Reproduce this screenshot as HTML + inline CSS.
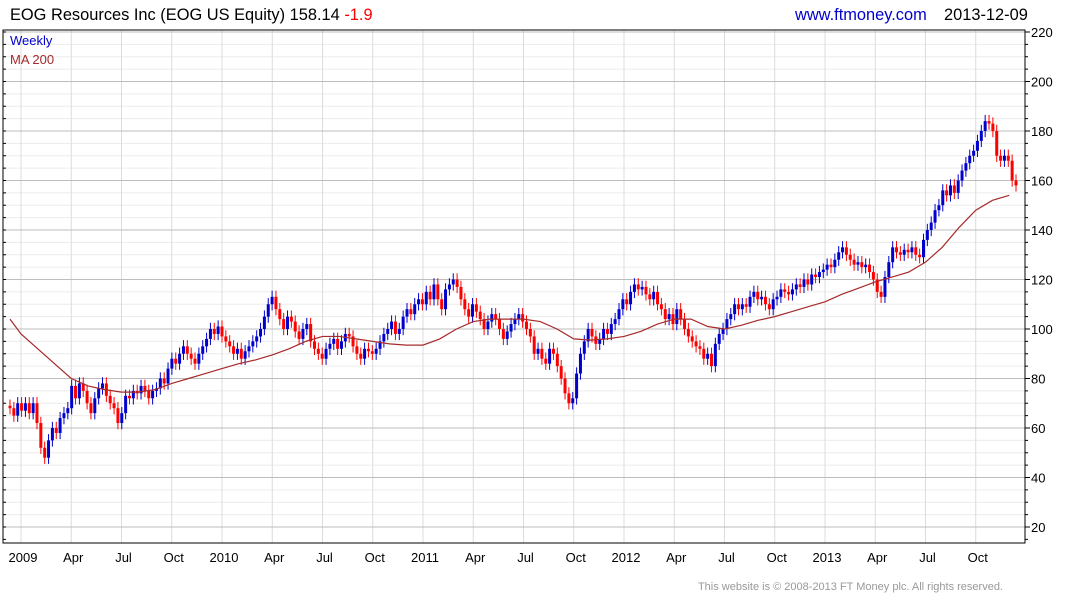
<!DOCTYPE html>
<html><head><meta charset="utf-8"><style>
body{margin:0;background:#fff;width:1075px;height:600px;overflow:hidden;font-family:"Liberation Sans",sans-serif}
svg{position:absolute;left:0;top:0}
</style></head><body>
<svg id="c" width="1075" height="600">
<text x="10" y="20" font-size="16.4" fill="#000">EOG Resources Inc (EOG US Equity) 158.14 <tspan fill="#ff0000">-1.9</tspan></text>
<text x="795" y="20" font-size="16.4" fill="#0000cc">www.ftmoney.com</text>
<text x="944" y="20" font-size="16.4" fill="#000">2013-12-09</text>
<text x="1003" y="590" font-size="11" fill="#999" text-anchor="end">This website is © 2008-2013 FT Money plc. All rights reserved.</text>
</svg>
<script>
const closes=[68,65,70,67,70,66,70,62,52,48,55,60,58,64,66,68,77,72,78,75,70,66,72,76,78,73,70,68,62,66,73,72,75,74,77,75,72,75,76,80,78,84,88,86,90,93,90,88,86,90,93,96,100,98,
101,97,95,93,90,92,88,91,93,95,97,100,105,110,113,108,104,100,105,103,99,96,100,102,95,92,90,88,92,94,96,92,95,98,97,93,90,88,92,91,90,92,95,98,100,103,98,100,105,108,106,110,112,
110,115,112,118,112,108,116,118,120,117,112,108,105,110,107,104,100,103,106,104,100,96,99,102,104,106,103,100,97,90,92,88,86,92,90,85,80,74,70,72,82,90,95,100,97,94,96,100,98,102,104,
108,112,110,115,118,116,117,114,112,115,110,108,104,106,102,108,104,100,97,95,93,92,88,90,85,94,98,100,104,106,110,108,110,109,113,115,112,113,110,108,112,113,116,115,114,116,118,117,120,118,122,121,123,
124,126,125,128,131,133,130,128,126,127,125,126,123,120,115,113,121,127,133,131,130,132,131,133,130,129,136,140,143,148,150,156,154,158,155,160,164,167,170,172,176,180,184,183,180,170,168,170,168,160,158];
const ma=[104,98,92,86,80,77,75.5,74.5,74.5,75.5,78,80,82,84,86,87.5,89.5,92,95,97,97,96,95,94,93.5,93.5,96,100,103,104,104,104,103,100,96,95.5,96,97,99,102,104,104,101,100,101.5,103.5,105,107,109,111,114,116.5,119,121,123,127,133,141,148,152,154];
const yTicks=[20,40,60,80,100,120,140,160,180,200,220];
const xLabels=["2009","Apr","Jul","Oct","2010","Apr","Jul","Oct","2011","Apr","Jul","Oct","2012","Apr","Jul","Oct","2013","Apr","Jul","Oct"];
const NS="http://www.w3.org/2000/svg",svg=document.getElementById('c');
const L=3,R=1025,T=30,B=543;
const y=p=>32+(220-p)*2.475;
const xi=i=>10+i*(1016-10)/(closes.length-1);
const xm=m=>21+(m-1)*16.75;
function mk(t,a){const e=document.createElementNS(NS,t);for(const k in a)e.setAttribute(k,a[k]);svg.appendChild(e);return e;}
for(let p=20;p<=220;p+=5){if(p%20===0)continue;const g=mk('line',{x1:L,x2:R,y1:y(p),y2:y(p),stroke:'#ececec'});

}
xLabels.forEach((s,k)=>{const X=xm(k*3+1);const g=mk('line',{x1:X,x2:X,y1:T,y2:B,stroke:'#dcdcdc'});


const t=mk('text',{x:X+2,y:562,'font-size':13,'text-anchor':'middle',fill:'#000'});t.textContent=s;

});
yTicks.forEach(p=>{const g=mk('line',{x1:L,x2:R,y1:y(p),y2:y(p),stroke:'#bdbdbd'});


const t=mk('text',{x:1031,y:y(p)+5,'font-size':13,fill:'#000'});t.textContent=p;

});
for(let p=10;p<=225;p+=5){if(y(p)<T||y(p)>B)continue;const tk=mk('line',{x1:R,x2:R+(p%20===0?5:3),y1:y(p),y2:y(p),stroke:'#000'});


const tl=mk('line',{x1:L,x2:L+3,y1:y(p),y2:y(p),stroke:'#000'});

}
const fr=mk('rect',{x:L,y:T,width:R-L,height:B-T,fill:'none',stroke:'#000'});


closes.forEach((c,i)=>{const o=i?closes[i-1]:c+1;const up=c>=o;const col=up?'#0000cc':'#ff0000';const X=xi(i);
const hi=Math.max(o,c)+2.5,lo=Math.min(o,c)-2.5;
const w=mk('line',{x1:X,x2:X,y1:y(hi),y2:y(lo),stroke:col});


const b=mk('rect',{x:X-1.5,y:y(Math.max(o,c)),width:3,height:Math.max(1,Math.abs(y(o)-y(c))),fill:col});

});
const pl=mk('polyline',{points:ma.map((v,m)=>Math.max(10,Math.min(1016,xm(m)))+','+y(v)).join(' '),fill:'none',stroke:'#a52a2a','stroke-width':1.2});


const l1=mk('text',{x:10,y:45,'font-size':13,fill:'#0000cc'});l1.textContent='Weekly';


const l2=mk('text',{x:10,y:64,'font-size':13,fill:'#a52a2a'});l2.textContent='MA 200';


</script>
</body></html>
